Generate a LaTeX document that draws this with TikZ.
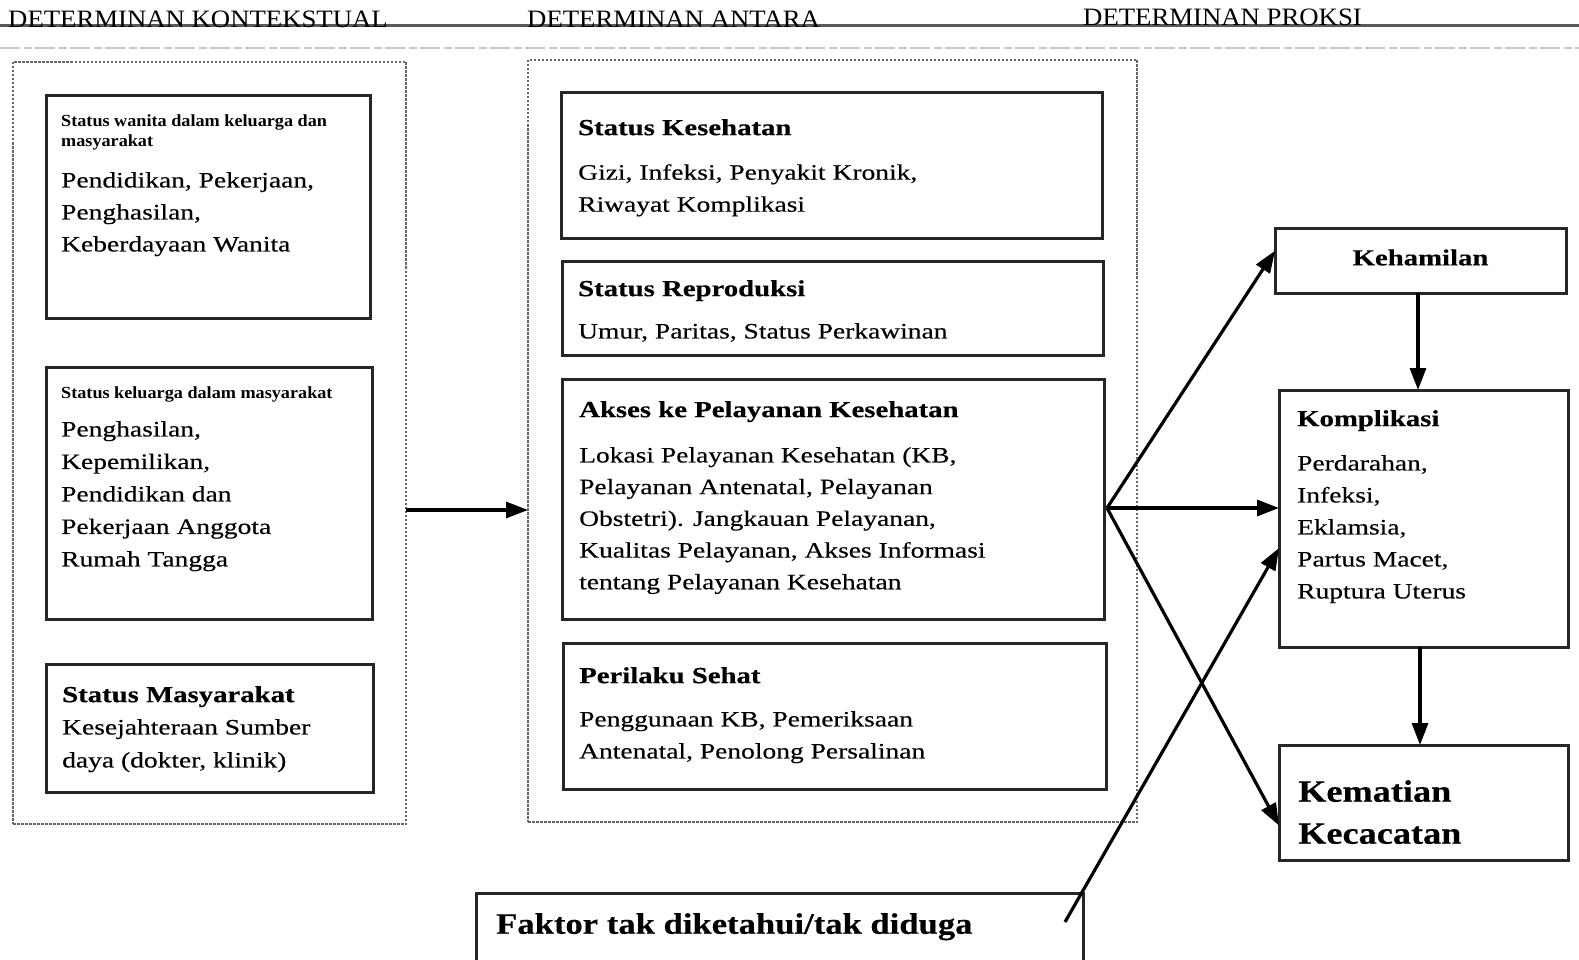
\documentclass[tikz,border=0pt]{standalone}
\usepackage{fontspec}
\setmainfont{Liberation Serif}
\newfontfamily\fA{Liberation Serif}[FakeStretch=1.25,FakeBold=0.35]
\newfontfamily\fB{Liberation Serif}[FakeStretch=1.07]
\newfontfamily\fC{Liberation Serif}[FakeStretch=1.17,FakeBold=0.4]
\usetikzlibrary{arrows.meta,calc}
\begin{document}
\begin{tikzpicture}[x=1pt,y=-1pt,
  box/.style={draw=black!85, line width=3pt, inner sep=0pt, outer sep=0pt, anchor=north west},
  cont/.style={draw=black!60, line width=1.6pt, dash pattern=on 2.5pt off 1.5pt, inner sep=0pt, outer sep=0pt, anchor=north west},
  txt/.style={font=\fA\fontsize{22}{32}\selectfont, anchor=north west, align=left, inner sep=0pt},
  head/.style={font=\fA\bfseries\fontsize{23}{32}\selectfont, anchor=north west, align=left, inner sep=0pt},
  sm/.style={font=\fB\bfseries\fontsize{17}{20}\selectfont, anchor=north west, align=left, inner sep=0pt},
  hdr/.style={font=\fB\fontsize{25}{30}\selectfont, anchor=base west, inner sep=0pt},
  arr/.style={draw=black, line width=3.2pt, -{Triangle[length=22pt,width=16pt]}}]
\useasboundingbox (0,0) rectangle (1579,960);
\fill[white] (0,0) rectangle (1579,960);

% header rules
\draw[black!65, line width=3pt] (0,26) -- (1579,26);
\draw[black!22, line width=1.5pt, dash pattern=on 20pt off 4pt on 8pt off 3pt] (0,48) -- (1579,48);
\node[hdr] (h1) at (8,28) {DETERMINAN KONTEKSTUAL};
\node[hdr] (h2) at (527,28) {DETERMINAN ANTARA};
\node[hdr] (h3) at (1083,26) {DETERMINAN PROKSI};

% containers
\node[cont, minimum width=393pt, minimum height=762pt] (L) at (13,62) {};
\node[cont, minimum width=609pt, minimum height=762pt] (M) at (528,60) {};

% left boxes
\node[box, minimum width=324pt, minimum height=222pt] (b1) at (46,96) {};
\node[box, minimum width=326pt, minimum height=252pt] (b2) at (46,367) {};
\node[box, minimum width=327pt, minimum height=128pt] (b3) at (46,664) {};

\node[sm] (b1s) at (61,115) {Status wanita dalam keluarga dan\\masyarakat};
\node[txt] (b1t) at (61,172) {Pendidikan, Pekerjaan,\\Penghasilan,\\Keberdayaan Wanita};
\node[sm] (b2s) at (61,387) {Status keluarga dalam masyarakat};
\node[txt, font=\fA\fontsize{22}{32.5}\selectfont] (b2t) at (61,421) {Penghasilan,\\Kepemilikan,\\Pendidikan dan\\Pekerjaan Anggota\\Rumah Tangga};
\node[head] (b3h) at (62,686) {Status Masyarakat};
\node[txt, font=\fA\fontsize{22}{33}\selectfont] (b3t) at (62,719) {Kesejahteraan Sumber\\daya (dokter, klinik)};

% middle boxes
\node[box, minimum width=541pt, minimum height=145pt] (m1) at (561,93) {};
\node[box, minimum width=541pt, minimum height=94pt] (m2) at (562,261) {};
\node[box, minimum width=542pt, minimum height=240pt] (m3) at (562,379) {};
\node[box, minimum width=543pt, minimum height=146pt] (m4) at (563,643) {};

\node[head] (m1h) at (578,119) {Status Kesehatan};
\node[txt] (m1t) at (578,164) {Gizi, Infeksi, Penyakit Kronik,\\Riwayat Komplikasi};
\node[head] (m2h) at (578,280) {Status Reproduksi};
\node[txt] (m2t) at (578,323) {Umur, Paritas, Status Perkawinan};
\node[head] (m3h) at (579,401) {Akses ke Pelayanan Kesehatan};
\node[txt, font=\fA\fontsize{22}{31.7}\selectfont] (m3t) at (579,447) {Lokasi Pelayanan Kesehatan (KB,\\Pelayanan Antenatal, Pelayanan\\Obstetri). Jangkauan Pelayanan,\\Kualitas Pelayanan, Akses Informasi\\tentang Pelayanan Kesehatan};
\node[head] (m4h) at (579,667) {Perilaku Sehat};
\node[txt] (m4t) at (579,711) {Penggunaan KB, Pemeriksaan\\Antenatal, Penolong Persalinan};

% right boxes
\node[box, minimum width=291pt, minimum height=65pt] (keh) at (1275,228) {};
\node[box, minimum width=289pt, minimum height=257pt] (kom) at (1279,390) {};
\node[box, minimum width=289pt, minimum height=115pt] (kem) at (1279,745) {};
\node[box, minimum width=607pt, minimum height=90pt] (fak) at (476,893) {};

\node[head, anchor=center] (kehh) at ($(keh.center)+(0,-3)$) {Kehamilan};
\node[head] (komh) at (1297,410) {Komplikasi};
\node[txt] (komt) at (1297,455) {Perdarahan,\\Infeksi,\\Eklamsia,\\Partus Macet,\\Ruptura Uterus};
\node[head, font=\fC\bfseries\fontsize{31}{42}\selectfont] (kemh) at (1298,780) {Kematian\\Kecacatan};
\node[head, font=\fC\bfseries\fontsize{29.6}{36}\selectfont] (fakh) at (496,913) {Faktor tak diketahui/tak diduga};

% connectors
\coordinate (fan) at (1107,508);
\coordinate (lout) at (406,510);
\coordinate (fs) at (1065,922);
\draw[arr] (lout) -- (M.west |- lout);
\draw[arr] (fan) -- ($(keh.north west)!0.35!(keh.south west)$);
\draw[arr] (fan) -- (kom.west |- fan);
\draw[arr] (fan) -- ($(kem.north west)!0.7!(kem.south west)$);
\draw[arr] (fs) -- ($(kom.north west)!0.615!(kom.south west)$);
\draw[arr] (keh.south -| 1418,0) -- (kom.north -| 1418,0);
\draw[arr] (kom.south -| 1420,0) -- (kem.north -| 1420,0);
\end{tikzpicture}
\end{document}
